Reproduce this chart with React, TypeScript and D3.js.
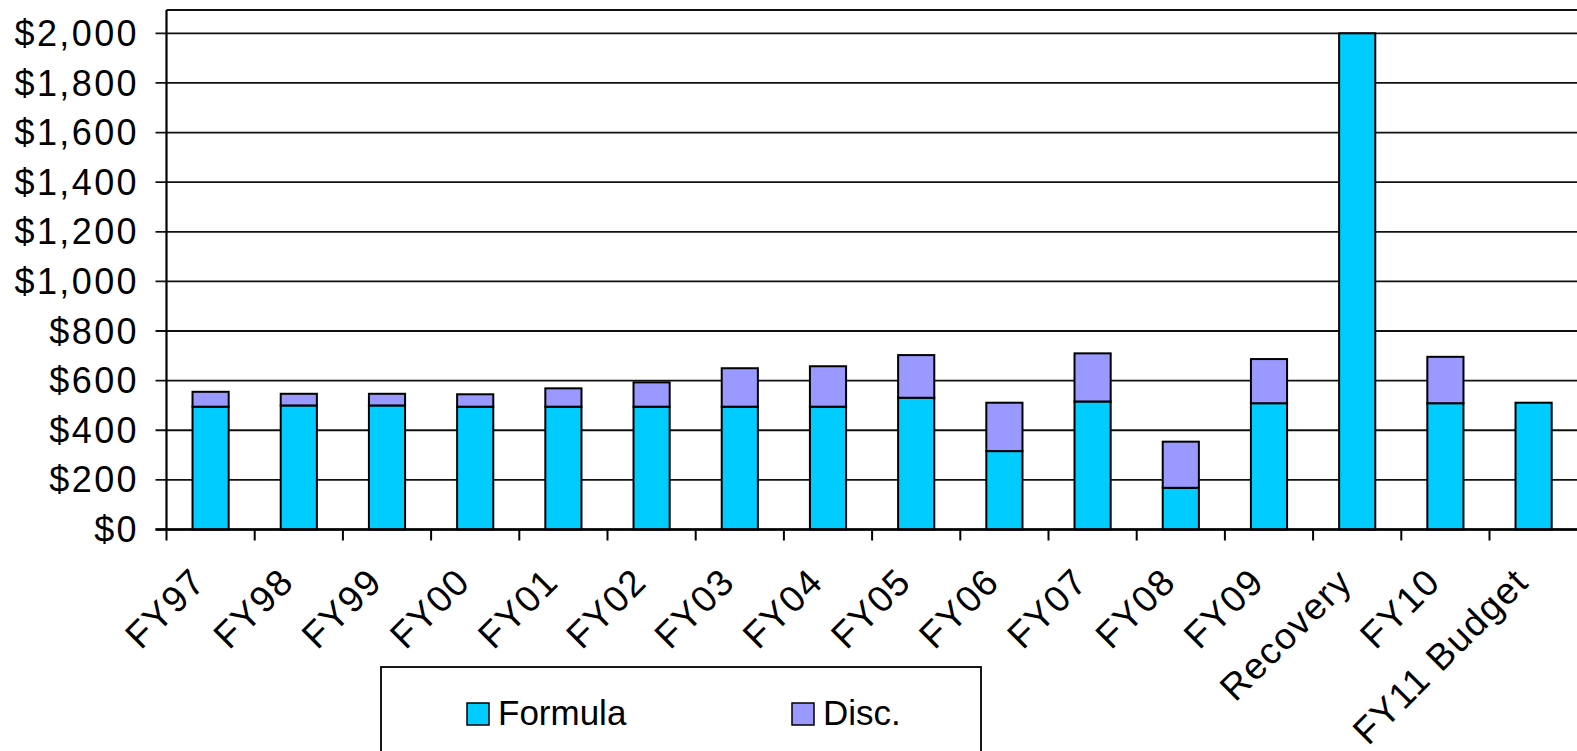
import { useEffect } from 'react';
import * as d3 from 'd3';

const categories = [
  'FY97', 'FY98', 'FY99', 'FY00', 'FY01', 'FY02', 'FY03', 'FY04',
  'FY05', 'FY06', 'FY07', 'FY08', 'FY09', 'Recovery', 'FY10', 'FY11 Budget',
];
const formula = [495, 500, 500, 495, 495, 495, 495, 495, 531, 316, 516, 168, 509, 2000, 509, 511];
const disc = [60, 47, 47, 50, 74, 98, 155, 163, 172, 195, 194, 186, 178, 0, 187, 0];
const yTicks = [0, 200, 400, 600, 800, 1000, 1200, 1400, 1600, 1800, 2000];
const seriesNames = ['Formula', 'Disc.'];

const width = 1577;
const height = 751;
const colors = ['#00CCFF', '#9999FF'];
const font = '"Liberation Sans", Arial, sans-serif';

const App = () => {
  useEffect(() => {
    document.body.style.margin = '0';
  }, []);

  const plotLeft = 166.5;
  const plotRight = 1577.7;
  const plotTop = 10;

  const x = d3
    .scaleBand<string>()
    .domain(categories)
    .range([plotLeft, plotRight])
    .paddingInner(0.59)
    .paddingOuter(0.295);

  const y = d3.scaleLinear().domain([0, 2000]).range([529.5, 33.3]);
  const fmt = (v: number) => '$' + d3.format(',')(v);

  const rows = categories.map((c, i) => ({ c, f: formula[i], d: disc[i] }));
  const step = x.step();

  return (
    <svg width={width} height={height} style={{ display: 'block', background: '#fff' }}>
      {/* grid */}
      {yTicks.map((t) => (
        <line key={t} x1={plotLeft - 11} x2={width} y1={y(t)} y2={y(t)} stroke="#111" strokeWidth={1.8} />
      ))}
      <line x1={plotLeft} x2={width} y1={plotTop} y2={plotTop} stroke="#111" strokeWidth={1.8} />
      <line x1={plotLeft} x2={plotLeft} y1={plotTop} y2={y(0)} stroke="#000" strokeWidth={2.2} />

      {/* bars */}
      {rows.map((r) => {
        const bx = x(r.c)!;
        const bw = x.bandwidth();
        return (
          <g key={r.c}>
            <rect x={bx} y={y(r.f)} width={bw} height={y(0) - y(r.f)} fill={colors[0]} stroke="#000" strokeWidth={2} />
            {r.d > 0 && (
              <rect x={bx} y={y(r.f + r.d)} width={bw} height={y(r.f) - y(r.f + r.d)} fill={colors[1]} stroke="#000" strokeWidth={2} />
            )}
          </g>
        );
      })}

      {/* x axis */}
      <line x1={plotLeft - 11} x2={width} y1={y(0)} y2={y(0)} stroke="#000" strokeWidth={2.5} />
      {categories.map((c, i) => (
        <line key={c} x1={plotLeft + i * step} x2={plotLeft + i * step} y1={y(0)} y2={y(0) + 11} stroke="#000" strokeWidth={2} />
      ))}
      {categories.map((c) => {
        const cx = x(c)! + x.bandwidth() / 2 - 3;
        return (
          <text
            key={c}
            transform={`translate(${cx},584) rotate(-45)`}
            textAnchor="end"
            fontFamily={font}
            fontSize={37}
            letterSpacing={1.5}
            fill="#000"
          >
            {c}
          </text>
        );
      })}

      {/* y labels */}
      {yTicks.map((t) => (
        <text key={t} x={139} y={y(t)} dy="0.35em" textAnchor="end" fontFamily={font} fontSize={36} letterSpacing={2.4} fill="#000">
          {fmt(t)}
        </text>
      ))}

      {/* legend */}
      <rect x={381} y={667} width={600} height={100} fill="#fff" stroke="#000" strokeWidth={1.8} />
      {seriesNames.map((s, i) => {
        const lx = i === 0 ? 467 : 792;
        return (
          <g key={s}>
            <rect x={lx} y={703} width={22} height={22} fill={colors[i]} stroke="#000" strokeWidth={1.5} />
            <text x={lx + 31} y={725} fontFamily={font} fontSize={35} fill="#000">
              {s}
            </text>
          </g>
        );
      })}
    </svg>
  );
};

export default App;
